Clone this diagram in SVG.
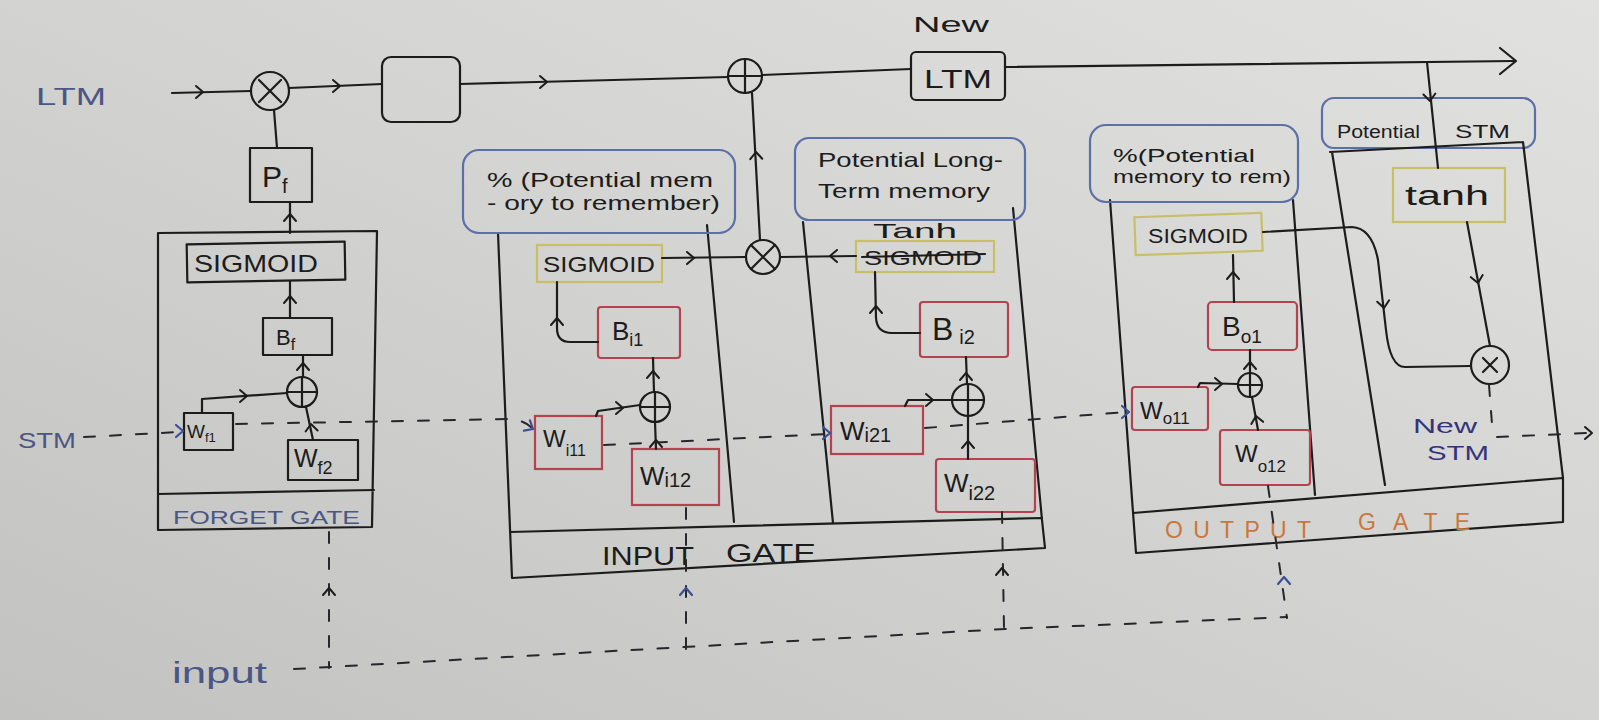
<svg xmlns="http://www.w3.org/2000/svg" width="1599" height="720" viewBox="0 0 1599 720">
<defs>
<linearGradient id="paper" x1="0" y1="1" x2="1" y2="0">
<stop offset="0" stop-color="#c2c2c0"/>
<stop offset="0.55" stop-color="#d4d4d2"/>
<stop offset="1" stop-color="#e1e1e0"/>
</linearGradient>
<path id="ch" d="M-7,-6 L0,0 L-7,6" fill="none" stroke="#1c1c1c" stroke-width="2" stroke-linecap="round" stroke-linejoin="round"/>
<path id="chb" d="M-7,-6 L0,0 L-7,6" fill="none" stroke="#3b4f96" stroke-width="2.2" stroke-linecap="round" stroke-linejoin="round"/>
<path id="chbig" d="M-16,-13 L0,0 L-16,13" fill="none" stroke="#1c1c1c" stroke-width="2.2" stroke-linecap="round" stroke-linejoin="round"/>
</defs>
<style>
.ink{fill:none;stroke:#1c1c1c;stroke-width:2.2;stroke-linecap:round;stroke-linejoin:round}
.dash{fill:none;stroke:#26262c;stroke-width:2;stroke-dasharray:11 15;stroke-linecap:round}
.red{fill:none;stroke:#b4434f;stroke-width:2.2}
.yel{fill:none;stroke:#c8bf66;stroke-width:2.2}
.blu{fill:none;stroke:#5b6fa8;stroke-width:2.2}
.t{font-family:"Liberation Sans",Arial,sans-serif;fill:#1c1c1c}
.tb{font-family:"Liberation Sans",Arial,sans-serif;fill:#4a5683}
.to{font-family:"Liberation Sans",Arial,sans-serif;fill:#c9773d}
.tn{font-family:"Liberation Sans",Arial,sans-serif;fill:#34347a}
</style>
<rect x="0" y="0" width="1599" height="720" fill="url(#paper)"/>

<!-- free labels -->
<g id="label-ltm"><text class="tb" x="36" y="105" font-size="24" textLength="70" lengthAdjust="spacingAndGlyphs">LTM</text></g>
<g id="label-stm"><text class="tb" x="18" y="448" font-size="22" textLength="58" lengthAdjust="spacingAndGlyphs">STM</text></g>
<g id="label-input"><text class="tb" x="172" y="683" font-size="30" textLength="95" lengthAdjust="spacingAndGlyphs">input</text></g>

<!-- top row nodes -->
<g id="mul-forget"><circle class="ink" cx="270" cy="91" r="19"/><path class="ink" d="M259,80 L281,102 M281,80 L259,102"/></g>
<g id="empty-box"><rect class="ink" x="382" y="57" width="78" height="65" rx="9"/></g>
<g id="add-ltm"><circle class="ink" cx="745" cy="76" r="17"/><path class="ink" d="M728,76 L762,76 M745,59 L745,93"/></g>
<g id="new-ltm">
<text class="t" x="913" y="32" font-size="22" textLength="76" lengthAdjust="spacingAndGlyphs">New</text>
<rect class="ink" x="911" y="52" width="94" height="48" rx="5"/>
<text class="t" x="924" y="88" font-size="26" textLength="68" lengthAdjust="spacingAndGlyphs">LTM</text>
</g>
<g id="pf"><rect class="ink" x="250" y="148" width="62" height="54"/><text class="t" x="262" y="187" font-size="30">P<tspan font-size="20" dy="6">f</tspan></text></g>

<!-- forget gate -->
<g id="forget-gate">
<path class="ink" d="M158,233 L377,231 L372,527 L158,530 Z M158,494 L374,490"/>
<rect class="ink" x="187" y="243" width="158" height="38" transform="rotate(-1 266 262)"/>
<text class="t" x="194" y="272" font-size="24" textLength="124" lengthAdjust="spacingAndGlyphs">SIGMOID</text>
<rect class="ink" x="263" y="318" width="69" height="37"/>
<text class="t" x="276" y="345" font-size="22">B<tspan font-size="16" dy="5">f</tspan></text>
<circle class="ink" cx="302" cy="392" r="15"/><path class="ink" d="M287,392 L317,392 M302,377 L302,407"/>
<rect class="ink" x="184" y="413" width="49" height="37"/>
<text class="t" x="187" y="438" font-size="19">W<tspan font-size="13" dy="4">f1</tspan></text>
<rect class="ink" x="288" y="440" width="70" height="40"/>
<text class="t" x="294" y="467" font-size="25">W<tspan font-size="18" dy="7">f2</tspan></text>
<text class="tb" x="173" y="524" font-size="19" textLength="187" lengthAdjust="spacingAndGlyphs">FORGET GATE</text>
</g>

<!-- input gate -->
<g id="input-gate">
<path class="ink" d="M498,233 L512,578 L1045,548 L1042,520 M510,532 L1042,518"/>
<path class="ink" d="M707,225 L725,420 L734,522"/>
<path class="ink" d="M803,222 L833,523 M1013,208 L1042,520"/>
<text class="t" x="602" y="565" font-size="25" textLength="92" lengthAdjust="spacingAndGlyphs">INPUT</text>
<text class="t" x="726" y="562" font-size="25" textLength="90" lengthAdjust="spacingAndGlyphs">GATE</text>
</g>
<g id="input-label-1">
<rect class="blu" x="463" y="150" width="272" height="83" rx="16"/>
<text class="t" x="487" y="187" font-size="21" textLength="226" lengthAdjust="spacingAndGlyphs">% (Potential mem</text>
<text class="t" x="487" y="210" font-size="21" textLength="233" lengthAdjust="spacingAndGlyphs">- ory to remember)</text>
</g>
<g id="input-label-2">
<rect class="blu" x="795" y="138" width="230" height="82" rx="14"/>
<text class="t" x="818" y="167" font-size="21" textLength="185" lengthAdjust="spacingAndGlyphs">Potential Long-</text>
<text class="t" x="818" y="198" font-size="21" textLength="172" lengthAdjust="spacingAndGlyphs">Term memory</text>
</g>
<g id="sigmoid-i1">
<rect class="yel" x="537" y="245" width="125" height="37"/>
<text class="t" x="543" y="272" font-size="22" textLength="112" lengthAdjust="spacingAndGlyphs">SIGMOID</text>
</g>
<g id="b-i1"><rect class="red" x="598" y="307" width="82" height="51" rx="3"/><text class="t" x="612" y="340" font-size="26">B<tspan font-size="18" dy="6">i1</tspan></text></g>
<g id="add-i1"><circle class="ink" cx="655" cy="407" r="15"/><path class="ink" d="M640,407 L670,407 M655,392 L655,422"/></g>
<g id="w-i11"><rect class="red" x="535" y="416" width="67" height="53"/><text class="t" x="543" y="447" font-size="24">W<tspan font-size="16" dy="9">i11</tspan></text></g>
<g id="w-i12"><rect class="red" x="632" y="449" width="87" height="56"/><text class="t" x="640" y="485" font-size="26">W<tspan font-size="20" dy="2">i12</tspan></text></g>
<g id="mul-input"><circle class="ink" cx="763" cy="257" r="17"/><path class="ink" d="M751,245 L775,269 M775,245 L751,269"/></g>
<g id="tanh-i2">
<text class="t" x="873" y="238" font-size="21" textLength="84" lengthAdjust="spacingAndGlyphs">Tanh</text>
<rect class="yel" x="856" y="241" width="138" height="31"/>
<text class="t" x="864" y="265" font-size="21" textLength="118" lengthAdjust="spacingAndGlyphs">SIGMOID</text>
<path class="ink" d="M862,257 L985,254"/>
</g>
<g id="b-i2"><rect class="red" x="920" y="302" width="88" height="55" rx="3"/><text class="t" x="932" y="340" font-size="32">B<tspan font-size="20" dy="4" dx="6">i2</tspan></text></g>
<g id="add-i2"><circle class="ink" cx="968" cy="400" r="16"/><path class="ink" d="M952,400 L984,400 M968,384 L968,416"/></g>
<g id="w-i21"><rect class="red" x="831" y="406" width="92" height="48"/><text class="t" x="840" y="440" font-size="26">W<tspan font-size="20" dy="2">i21</tspan></text></g>
<g id="w-i22"><rect class="red" x="936" y="459" width="99" height="53" rx="3"/><text class="t" x="944" y="492" font-size="26">W<tspan font-size="20" dy="8">i22</tspan></text></g>

<!-- output gate -->
<g id="output-gate">
<path class="ink" d="M1110,200 L1136,553 L1563,522 L1563,478 M1133,513 L1563,478"/>
<path class="ink" d="M1293,200 L1315,495"/>
<text class="to" x="1165" y="538" font-size="23" textLength="146" lengthAdjust="spacing">OUTPUT</text>
<text class="to" x="1358" y="530" font-size="23" textLength="112" lengthAdjust="spacing">GATE</text>
</g>
<g id="output-label">
<rect class="blu" x="1090" y="125" width="208" height="77" rx="16"/>
<text class="t" x="1113" y="162" font-size="19" textLength="142" lengthAdjust="spacingAndGlyphs">%(Potential</text>
<text class="t" x="1113" y="183" font-size="19" textLength="178" lengthAdjust="spacingAndGlyphs">memory to rem)</text>
</g>
<g id="sigmoid-o"><rect class="yel" x="1135" y="215" width="127" height="38" transform="rotate(-2 1198 234)"/><text class="t" x="1148" y="243" font-size="20" textLength="100" lengthAdjust="spacingAndGlyphs">SIGMOID</text></g>
<g id="b-o1"><rect class="red" x="1208" y="302" width="89" height="48" rx="4"/><text class="t" x="1222" y="336" font-size="28">B<tspan font-size="19" dy="7">o1</tspan></text></g>
<g id="add-o"><circle class="ink" cx="1250" cy="385" r="12"/><path class="ink" d="M1238,385 L1262,385 M1250,373 L1250,397"/></g>
<g id="w-o11"><rect class="red" x="1132" y="387" width="76" height="43" rx="3"/><text class="t" x="1140" y="419" font-size="24">W<tspan font-size="17" dy="5">o11</tspan></text></g>
<g id="w-o12"><rect class="red" x="1220" y="430" width="90" height="55" rx="3"/><text class="t" x="1235" y="462" font-size="24">W<tspan font-size="17" dy="10">o12</tspan></text></g>

<!-- potential STM -->
<g id="stm-column">
<rect class="blu" x="1322" y="98" width="213" height="50" rx="12"/>
<path class="ink" d="M1330,152 L1523,142 M1332,152 L1385,485 M1523,142 L1563,478"/>
<text class="t" x="1337" y="138" font-size="18" textLength="83" lengthAdjust="spacingAndGlyphs">Potential</text>
<text class="t" x="1455" y="138" font-size="18" textLength="55" lengthAdjust="spacingAndGlyphs">STM</text>
</g>
<g id="tanh-o"><rect class="yel" x="1393" y="168" width="112" height="54"/><text class="t" x="1405" y="205" font-size="27" textLength="84" lengthAdjust="spacingAndGlyphs">tanh</text></g>
<g id="mul-o"><circle class="ink" cx="1490" cy="365" r="19"/><path class="ink" d="M1483,358 L1497,372 M1497,358 L1483,372"/></g>
<g id="new-stm">
<text class="tn" x="1413" y="433" font-size="21" textLength="64" lengthAdjust="spacingAndGlyphs">New</text>
<text class="tn" x="1427" y="460" font-size="21" textLength="62" lengthAdjust="spacingAndGlyphs">STM</text>
</g>

<!-- connectors -->
<g id="connectors">
<path class="ink" d="M172,93 L251,91"/><use href="#ch" transform="translate(203,92)"/>
<path class="ink" d="M289,88 L382,84"/><use href="#ch" transform="translate(340,86)"/>
<path class="ink" d="M460,84 L728,77"/><use href="#ch" transform="translate(547,82)"/>
<path class="ink" d="M762,75 L911,69"/>
<path class="ink" d="M1005,67 L1514,61"/><use href="#chbig" transform="translate(1516,61)"/>
<path class="ink" d="M1427,62 L1438,168"/><use href="#ch" transform="translate(1430,101) rotate(85)"/>
<path class="ink" d="M274,110 L277,148"/>
<path class="ink" d="M290,202 L290,233"/><use href="#ch" transform="translate(290,214) rotate(-90)"/>
<path class="ink" d="M290,281 L290,318"/><use href="#ch" transform="translate(290,296) rotate(-90)"/>
<path class="ink" d="M303,355 L303,377"/><use href="#ch" transform="translate(303,363) rotate(-90)"/>
<path class="ink" d="M202,413 L202,399 L287,393"/><use href="#ch" transform="translate(247,396)"/>
<path class="ink" d="M313,440 L306,407"/><use href="#ch" transform="translate(311,424) rotate(-95)"/>
<path class="ink" d="M662,258 L746,257"/><use href="#ch" transform="translate(694,258)"/>
<path class="ink" d="M760,240 L752,93"/><use href="#ch" transform="translate(756,152) rotate(-92)"/>
<path class="ink" d="M598,342 L570,342 Q557,342 557,328 L557,282"/><use href="#ch" transform="translate(557,318) rotate(-90)"/>
<path class="ink" d="M653,358 L654,392"/><use href="#ch" transform="translate(653,371) rotate(-90)"/>
<path class="ink" d="M596,416 L598,411 L640,405"/><use href="#ch" transform="translate(623,408)"/>
<path class="ink" d="M656,449 L655,422"/><use href="#ch" transform="translate(656,440) rotate(-90)"/>
<path class="ink" d="M856,256 L780,257"/><use href="#ch" transform="translate(830,256) rotate(180)"/>
<path class="ink" d="M920,333 L892,333 Q877,333 876,318 L875,272"/><use href="#ch" transform="translate(876,306) rotate(-90)"/>
<path class="ink" d="M966,357 L967,384"/><use href="#ch" transform="translate(966,373) rotate(-90)"/>
<path class="ink" d="M905,406 L908,400 L952,400"/><use href="#ch" transform="translate(933,400)"/>
<path class="ink" d="M968,459 L968,416"/><use href="#ch" transform="translate(968,441) rotate(-90)"/>
<path class="ink" d="M1234,302 L1233,255"/><use href="#ch" transform="translate(1233,272) rotate(-90)"/>
<path class="ink" d="M1250,350 L1250,373"/><use href="#ch" transform="translate(1250,362) rotate(-90)"/>
<path class="ink" d="M1198,387 L1200,383 L1238,384"/><use href="#ch" transform="translate(1222,384)"/>
<path class="ink" d="M1258,430 L1252,397"/><use href="#ch" transform="translate(1256,416) rotate(-100)"/>
<path class="ink" d="M1263,232 L1352,227 Q1372,228 1378,260 L1386,330 Q1390,367 1405,367 L1471,366"/><use href="#ch" transform="translate(1384,308) rotate(83)"/>
<path class="ink" d="M1467,222 L1490,346"/><use href="#ch" transform="translate(1478,283) rotate(80)"/>
<path class="dash" d="M84,437 L180,432"/><use href="#chb" transform="translate(183,431)"/>
<path class="dash" d="M236,424 L510,419 Q524,420 532,428"/><use href="#chb" transform="translate(533,429) rotate(30)"/>
<path class="dash" d="M604,445 L828,434"/><use href="#chb" transform="translate(830,433)"/>
<path class="dash" d="M925,428 L1126,412"/><use href="#chb" transform="translate(1129,412)"/>
<path class="dash" d="M1489,385 L1492,424 M1497,437 L1588,433"/><use href="#ch" transform="translate(1592,433)"/>
<path class="dash" d="M294,669 L1005,629 L1287,617"/>
<path class="dash" d="M329,532 L329,668"/><use href="#ch" transform="translate(329,588) rotate(-90)"/>
<path class="dash" d="M686,508 L686,650"/><use href="#chb" transform="translate(686,588) rotate(-90)"/>
<path class="dash" d="M1002,512 L1004,628"/><use href="#ch" transform="translate(1002,568) rotate(-90)"/>
<path class="dash" d="M1268,486 L1287,618"/><use href="#chb" transform="translate(1284,577) rotate(-90)"/>
</g>
</svg>
